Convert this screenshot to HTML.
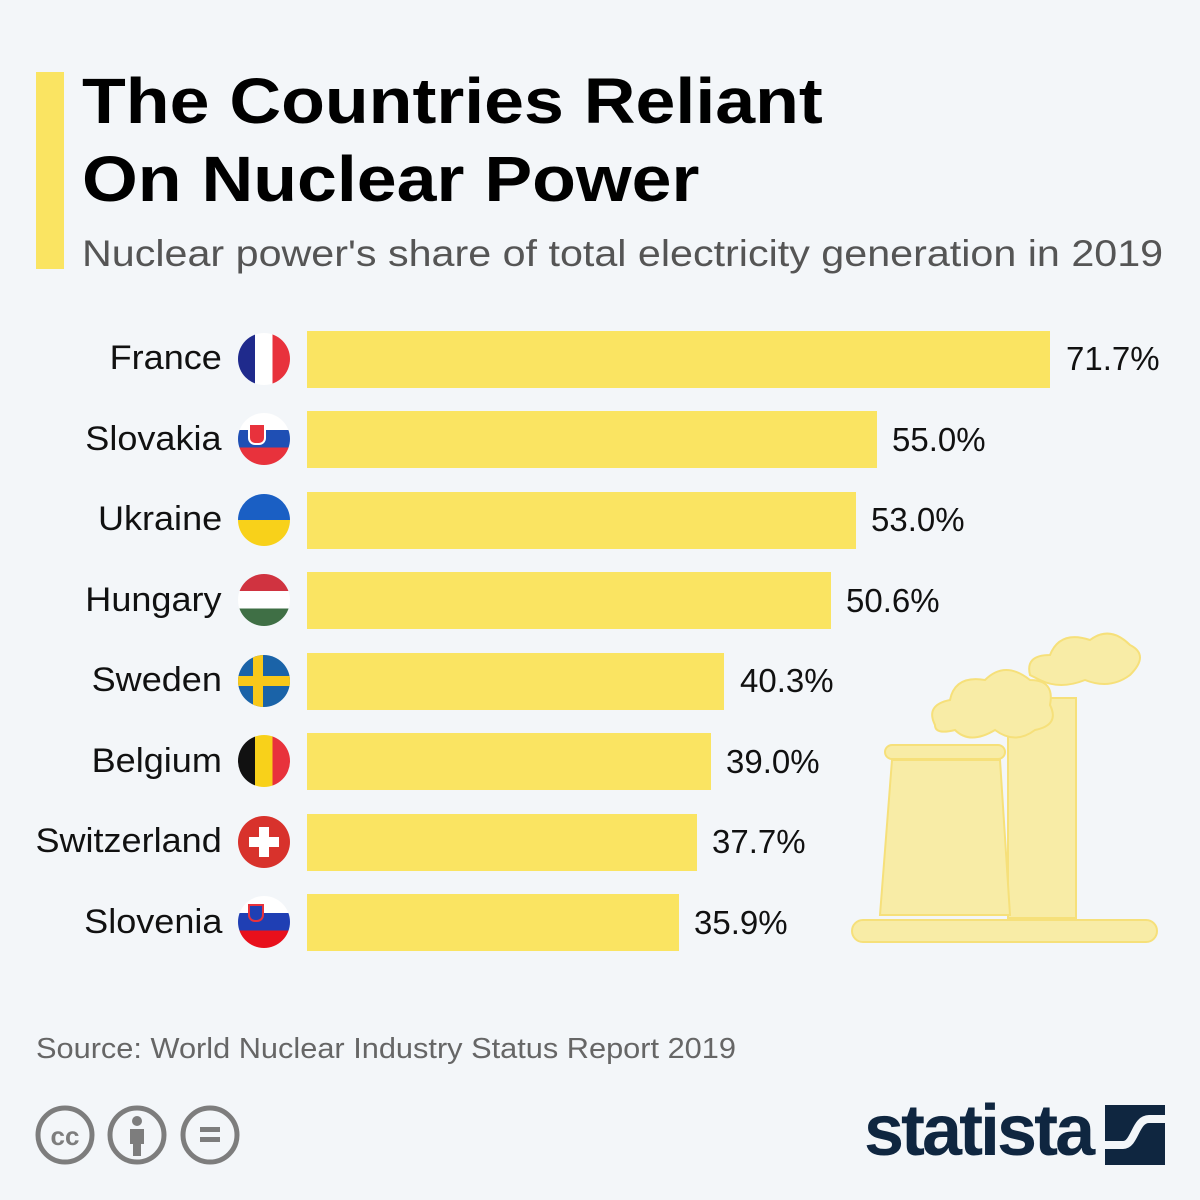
<!DOCTYPE html><html><head><style>
body{margin:0;width:1200px;height:1200px;background:#f3f6f9;position:relative;overflow:hidden;font-family:"Liberation Sans","DejaVu Sans",sans-serif;}
.a{position:absolute}
.bar{position:absolute;left:307px;height:57px;background:#fae462}
.lab{position:absolute;right:978px;font-size:34px;color:#111;white-space:nowrap;transform:scaleX(1.06);transform-origin:right}
.val{position:absolute;font-size:33px;color:#111}
.fl{position:absolute;left:238px;width:52px;height:52px;border-radius:50%;overflow:hidden}
</style></head><body>
<div class="a" style="left:36px;top:72px;width:28px;height:197px;background:#fae462"></div>
<div class="a" style="left:82px;top:62px;font-size:64px;font-weight:bold;line-height:78px;color:#000;white-space:nowrap;transform:scaleX(1.12);transform-origin:left">The Countries Reliant<br>On Nuclear Power</div>
<div class="a" style="left:82px;top:233px;font-size:37px;color:#555;white-space:nowrap;transform:scaleX(1.115);transform-origin:left">Nuclear power's share of total electricity generation in 2019</div>

<svg class="a" style="left:840px;top:620px" width="330" height="340" viewBox="0 0 330 340">
<g fill="#f8eca6" stroke="#f6e07a" stroke-width="2">
<rect x="168" y="78" width="68" height="220"/>
<path d="M52 140 L160 140 L170 295 L40 295 Z"/>
<rect x="45" y="125" width="120" height="14" rx="7"/>
<rect x="12" y="300" width="305" height="22" rx="11"/>
<path d="M95 105 q-10-20 15-25 q5-25 35-20 q20-20 45 0 q25 0 20 25 q10 20-15 25 q-20 15-40 0 q-25 15-40 0 q-20 5-20-5z"/>
<path d="M190 55 q-5-20 20-20 q10-25 40-15 q20-15 40 5 q20 10 0 30 q-20 15-45 5 q-25 10-45 0z"/>
</g></svg>

<div class="bar" style="top:331px;width:743px"></div>
<div class="bar" style="top:411px;width:570px"></div>
<div class="bar" style="top:492px;width:549px"></div>
<div class="bar" style="top:572px;width:524px"></div>
<div class="bar" style="top:653px;width:417px"></div>
<div class="bar" style="top:733px;width:404px"></div>
<div class="bar" style="top:814px;width:390px"></div>
<div class="bar" style="top:894px;width:372px"></div>

<div class="lab" style="top:339px">France</div>
<div class="lab" style="top:420px">Slovakia</div>
<div class="lab" style="top:500px">Ukraine</div>
<div class="lab" style="top:581px">Hungary</div>
<div class="lab" style="top:661px">Sweden</div>
<div class="lab" style="top:742px">Belgium</div>
<div class="lab" style="top:822px">Switzerland</div>
<div class="lab" style="top:903px">Slovenia</div>

<div class="val" style="left:1066px;top:340px">71.7%</div>
<div class="val" style="left:892px;top:421px">55.0%</div>
<div class="val" style="left:871px;top:501px">53.0%</div>
<div class="val" style="left:846px;top:582px">50.6%</div>
<div class="val" style="left:740px;top:662px">40.3%</div>
<div class="val" style="left:726px;top:743px">39.0%</div>
<div class="val" style="left:712px;top:823px">37.7%</div>
<div class="val" style="left:694px;top:904px">35.9%</div>

<div class="fl" style="top:333px;background:linear-gradient(90deg,#1f2a8c 33%,#fff 33% 66%,#e8323c 66%)"></div>
<div class="fl" style="top:413px;background:linear-gradient(#fff 33%,#1f4fb4 33% 66%,#e8323c 66%)"><div class="a" style="left:10px;top:10px;width:14px;height:18px;background:#e8323c;border:2px solid #fff;border-radius:0 0 7px 7px"></div></div>
<div class="fl" style="top:494px;background:linear-gradient(#1a5fc4 50%,#f8d11a 50%)"></div>
<div class="fl" style="top:574px;background:linear-gradient(#d03340 33%,#fff 33% 66%,#3f6f45 66%)"></div>
<div class="fl" style="top:655px;background:#1a63a8"><div class="a" style="left:0;top:21px;width:52px;height:10px;background:#f8c81a"></div><div class="a" style="left:15px;top:0;width:10px;height:52px;background:#f8c81a"></div></div>
<div class="fl" style="top:735px;background:linear-gradient(90deg,#111 33%,#f8d11a 33% 66%,#e8323c 66%)"></div>
<div class="fl" style="top:816px;background:#d8322c"><div class="a" style="left:21px;top:11px;width:10px;height:30px;background:#fff"></div><div class="a" style="left:11px;top:21px;width:30px;height:10px;background:#fff"></div></div>
<div class="fl" style="top:896px;background:linear-gradient(#fff 33%,#1f3fb4 33% 66%,#e8101c 66%)"><div class="a" style="left:10px;top:8px;width:12px;height:14px;background:#1f3fb4;border:2px solid #e8323c;border-radius:0 0 7px 7px"></div></div>

<div class="a" style="left:36px;top:1033px;font-size:29px;color:#666;white-space:nowrap;transform:scaleX(1.06);transform-origin:left">Source: World Nuclear Industry Status Report 2019</div>

<svg class="a" style="left:34px;top:1104px" width="210" height="62">
<g fill="none" stroke="#7d7d7d" stroke-width="5"><circle cx="31" cy="31" r="27"/><circle cx="103" cy="31" r="27"/><circle cx="176" cy="31" r="27"/></g>
<text x="31" y="41" font-size="26" font-weight="bold" fill="#7d7d7d" text-anchor="middle" font-family="Liberation Sans">cc</text>
<circle cx="103" cy="17" r="5" fill="#7d7d7d"/><rect x="96" y="25" width="14" height="15" fill="#7d7d7d"/><rect x="99" y="38" width="8" height="14" fill="#7d7d7d"/>
<rect x="166" y="23" width="20" height="5" fill="#7d7d7d"/><rect x="166" y="33" width="20" height="5" fill="#7d7d7d"/>
</svg>
<div class="a" style="left:864px;top:1090px;font-size:72px;font-weight:bold;color:#0f2640;letter-spacing:-3px;white-space:nowrap">statista</div>
<svg class="a" style="left:1105px;top:1105px" width="60" height="60"><rect width="60" height="60" fill="#0f2640"/><path d="M0 40 L18 40 C30 40 30 14 44 14 L60 14" fill="none" stroke="#f3f6f9" stroke-width="8"/></svg>
</body></html>
